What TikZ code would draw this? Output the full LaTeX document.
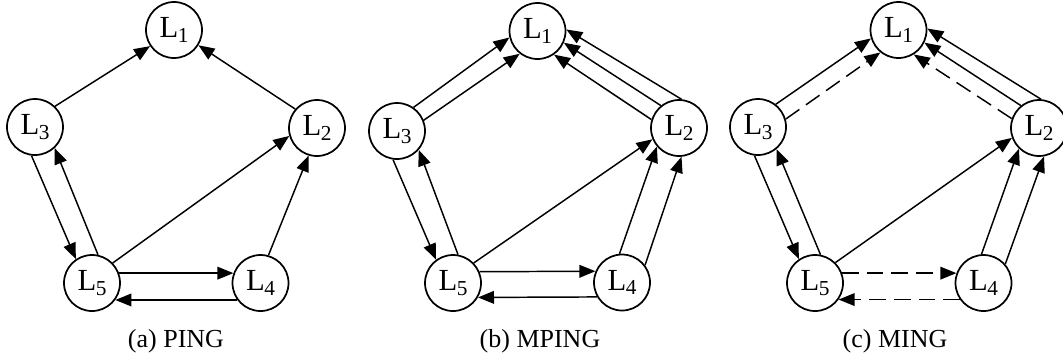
\documentclass[tikz,border=0pt]{standalone}
\usepackage{fontspec}
\setmainfont{Liberation Serif}
\usetikzlibrary{arrows.meta}

% node label: L with a lowered index
\newcommand\lab[1]{L\kern-0.3pt\raisebox{-3.4pt}{\fontsize{16pt}{17pt}\selectfont #1}}

\tikzset{
  lnode/.style={circle, draw, line width=1.3pt, minimum size=42pt, inner sep=0pt,
                font=\fontsize{23pt}{25pt}\selectfont},
  link/.style={line width=1.1pt, -{Triangle[length=12pt,width=9.5pt]}},
  dlink/.style={link, dash pattern=on 12.5pt off 6pt},
  caption/.style={font=\fontsize{19.5pt}{22pt}\selectfont, anchor=base},
}

\begin{document}
\begin{tikzpicture}[x=0.75pt,y=-0.75pt]
\useasboundingbox (0,0) rectangle (1063,358);

% ---------- (a) PING ----------
\node[lnode] (a1) at (174,30)    {\lab{1}};
\node[lnode] (a2) at (317,128)   {\lab{2}};
\node[lnode] (a3) at (35,127)    {\lab{3}};
\node[lnode] (a4) at (260.5,283) {\lab{4}};
\node[lnode] (a5) at (92,283)    {\lab{5}};

\draw[link] (a3.46)  -- (a1.214);
\draw[link] (a2.139) -- (a1.328);
\draw[link] (a3.263) -- (a5.124);
\draw[link] (a5.78)  -- (a3.313);
\draw[link] (a5.44)  -- (a2.196);
\draw[link] (a4.74)  -- (a2.253);
\draw[link] (a5.20)  -- (a4.160);
\draw[link] (a4.216) -- (a5.324);

\node[caption] (capa) at (176,347) {(a) PING};

% ---------- (b) MPING ----------
\node[lnode] (b1) at (537.5,31)  {\lab{1}};
\node[lnode] (b2) at (679,128)   {\lab{2}};
\node[lnode] (b3) at (397,131)   {\lab{3}};
\node[lnode] (b4) at (622,282.5) {\lab{4}};
\node[lnode] (b5) at (453,283)   {\lab{5}};

\draw[link] (b3.55)  -- (b1.193);
\draw[link] (b3.22)  -- (b1.232);
\draw[link] (b2.85)  -- (b1.3);
\draw[link] (b2.129) -- (b1.336);
\draw[link] (b2.163) -- (b1.305);
\draw[link] (b3.262) -- (b5.126);
\draw[link] (b5.80)  -- (b3.319);
\draw[link] (b5.44)  -- (b2.203);
\draw[link] (b4.95)  -- (b2.220);
\draw[link] (b4.37)  -- (b2.275);
\draw[link] (b5.23)  -- (b4.157);
\draw[link] (b4.210) -- (b5.330);

\node[caption] (capb) at (540,347) {(b) MPING};

% ---------- (c) MING ----------
\node[lnode] (c1) at (898.5,30) {\lab{1}};
\node[lnode] (c2) at (1039,128) {\lab{2}};
\node[lnode] (c3) at (758,127)  {\lab{3}};
\node[lnode] (c4) at (983.5,283){\lab{4}};
\node[lnode] (c5) at (815,283)  {\lab{5}};

\draw[link]  (c3.52)  -- (c1.197);
\draw[dlink] (c3.16)  -- (c1.231);
\draw[link]  (c2.86)  -- (c1.3);
\draw[link]  (c2.129) -- (c1.334);
\draw[dlink] (c2.161) -- (c1.302);
\draw[link]  (c3.263) -- (c5.124);
\draw[link]  (c5.79)  -- (c3.310);
\draw[link]  (c5.45)  -- (c2.200);
\draw[link]  (c4.94)  -- (c2.226);
\draw[link]  (c4.41)  -- (c2.280);
\draw[dlink] (c5.20)  -- (c4.160);
\draw[dlink] (c4.215) -- (c5.325);

\node[caption] (capc) at (895,347) {(c) MING};
\end{tikzpicture}
\end{document}
